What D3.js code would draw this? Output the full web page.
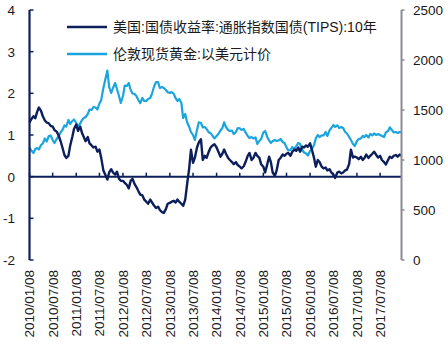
<!DOCTYPE html>
<html>
<head>
<meta charset="utf-8">
<script src="https://cdn.jsdelivr.net/npm/d3@7"></script>
<style>
  html, body { margin: 0; padding: 0; background: #fff; }
  svg { display: block; }
</style>
</head>
<body>
<div id="chart"></div>
<script>
// semi-monthly observations (8th and 22nd of each month), 2010-01 .. 2017-12
const startYear = 2010;

const tipsYield = [
  // 2010
  1.30, 1.38, 1.45, 1.40, 1.55, 1.66, 1.58, 1.45, 1.35, 1.30, 1.28, 1.22,
  1.20, 1.12, 1.08, 1.00, 0.85, 0.70, 0.52, 0.45, 0.50, 0.75, 0.95, 1.15,
  // 2011
  1.25, 1.10, 1.20, 1.05, 0.95, 0.85, 0.95, 0.80, 0.75, 0.70, 0.72, 0.60,
  0.65, 0.45, 0.15, 0.05, -0.07, 0.10, 0.18, 0.10, 0.05, 0.12, -0.05, -0.10,
  // 2012
  -0.10, -0.15, -0.20, -0.28, -0.10, -0.05, -0.18, -0.25, -0.35, -0.43, -0.45, -0.55,
  -0.60, -0.65, -0.55, -0.62, -0.70, -0.75, -0.72, -0.80, -0.85, -0.87, -0.78, -0.65,
  // 2013
  -0.63, -0.60, -0.58, -0.62, -0.55, -0.60, -0.65, -0.70, -0.55, -0.20, 0.20, 0.65,
  0.33, 0.45, 0.70, 0.82, 0.90, 0.40, 0.50, 0.45, 0.60, 0.70, 0.75, 0.78,
  // 2014
  0.70, 0.60, 0.48, 0.55, 0.65, 0.55, 0.45, 0.40, 0.35, 0.30, 0.35, 0.28,
  0.24, 0.20, 0.25, 0.35, 0.50, 0.57, 0.40, 0.45, 0.57, 0.50, 0.45, 0.30,
  // 2015
  0.24, 0.10, 0.30, 0.48, 0.35, 0.10, 0.02, 0.15, 0.40, 0.45, 0.53, 0.50,
  0.55, 0.57, 0.50, 0.60, 0.65, 0.62, 0.70, 0.60, 0.72, 0.70, 0.75, 0.72,
  // 2016
  0.80, 0.65, 0.45, 0.24, 0.40, 0.35, 0.24, 0.20, 0.22, 0.15, 0.18, 0.10,
  0.05, -0.03, 0.10, 0.12, 0.08, 0.10, 0.15, 0.17, 0.30, 0.65, 0.46, 0.48,
  // 2017
  0.46, 0.42, 0.48, 0.40, 0.45, 0.53, 0.45, 0.50, 0.55, 0.60, 0.52, 0.46,
  0.50, 0.40, 0.35, 0.29, 0.40, 0.48, 0.45, 0.50, 0.52, 0.48, 0.53, 0.50
];

const goldPrice = [
  // 2010
  1125, 1095, 1070, 1110, 1120, 1105, 1150, 1165, 1215, 1185, 1240, 1245,
  1200, 1170, 1210, 1235, 1275, 1300, 1345, 1335, 1400, 1360, 1390, 1405,
  // 2011
  1370, 1335, 1365, 1400, 1420, 1430, 1460, 1505, 1500, 1530, 1525, 1505,
  1565, 1600, 1720, 1800, 1895, 1730, 1670, 1720, 1770, 1710, 1640, 1570,
  // 2012
  1640, 1745, 1740, 1770, 1700, 1665, 1660, 1640, 1598, 1568, 1620, 1590,
  1590, 1610, 1620, 1665, 1740, 1779, 1780, 1720, 1729, 1720, 1700, 1678,
  // 2013
  1670, 1680, 1660, 1618, 1590, 1610, 1570, 1420, 1460, 1380, 1330, 1280,
  1250, 1200, 1300, 1377, 1370, 1327, 1330, 1310, 1276, 1270, 1240, 1216,
  // 2014
  1240, 1260, 1296, 1320, 1377, 1330, 1300, 1290, 1295, 1260, 1280, 1320,
  1317, 1300, 1310, 1276, 1240, 1220, 1230, 1216, 1226, 1160, 1190, 1210,
  // 2015
  1276, 1290, 1230, 1196, 1170, 1190, 1200, 1190, 1196, 1210, 1180, 1170,
  1126, 1095, 1100, 1130, 1110, 1140, 1170, 1160, 1100, 1075, 1065, 1045,
  // 2016
  1090, 1110, 1150, 1216, 1250, 1230, 1246, 1245, 1280, 1240, 1296, 1320,
  1350, 1330, 1347, 1320, 1330, 1320, 1280, 1265, 1230, 1200, 1160, 1140,
  // 2017
  1190, 1210, 1216, 1240, 1230, 1250, 1225, 1260, 1246, 1265, 1250, 1260,
  1250, 1240, 1230, 1276, 1290, 1327, 1300, 1276, 1280, 1270, 1280, 1276
];

const leftTicks = [-2, -1, 0, 1, 2, 3, 4];
const rightTicks = [0, 500, 1000, 1500, 2000, 2500];
const seriesNames = ["美国:国债收益率:通胀指数国债(TIPS):10年", "伦敦现货黄金:以美元计价"];
const seriesColors = ["#0c1f5b", "#1ba5de"];

const dates = tipsYield.map((d, i) => new Date(startYear + Math.floor(i / 24), Math.floor(i / 2) % 12, i % 2 ? 22 : 8));
const tickDates = d3.range(0, 16).map(k => new Date(startYear + Math.floor(k / 2), (k % 2) * 6, 8));

const width = 448, height = 354;
const plotLeft = 29.5, plotRight = 401.5, plotTop = 10, plotBottom = 260;

const svg = d3.select("#chart").append("svg")
  .attr("width", width)
  .attr("height", height)
  .style("font-family", "'Liberation Sans', Arial, 'Noto Sans CJK SC', sans-serif");

const x = d3.scaleTime()
  .domain([new Date(2010, 0, 8), new Date(2017, 11, 22)])
  .range([plotLeft, plotRight]);

const yL = d3.scaleLinear().domain([-2, 4]).range([plotBottom, plotTop]);
const yR = d3.scaleLinear().domain([0, 2500]).range([plotBottom, plotTop]);

// ---------- series ----------
const goldLine = d3.line()
  .x((d, i) => x(dates[i]))
  .y(d => yR(d));

const tipsLine = d3.line()
  .x((d, i) => x(dates[i]))
  .y(d => yL(d));

svg.append("path")
  .datum(goldPrice)
  .attr("fill", "none")
  .attr("stroke", seriesColors[1])
  .attr("stroke-width", 2.2)
  .attr("stroke-linejoin", "round")
  .attr("d", goldLine);

svg.append("path")
  .datum(tipsYield)
  .attr("fill", "none")
  .attr("stroke", seriesColors[0])
  .attr("stroke-width", 2.4)
  .attr("stroke-linejoin", "round")
  .attr("d", tipsLine);

// ---------- x axis at zero ----------
const xAxis = svg.append("g")
  .attr("transform", `translate(0,${yL(0)})`);

xAxis.append("line")
  .attr("x1", plotLeft).attr("x2", plotRight)
  .attr("stroke", seriesColors[0])
  .attr("stroke-width", 2);

xAxis.selectAll(".xtick")
  .data(tickDates)
  .join("line")
  .attr("x1", d => x(d)).attr("x2", d => x(d))
  .attr("y1", 0).attr("y2", -4)
  .attr("stroke", seriesColors[0])
  .attr("stroke-width", 1.5);

svg.selectAll(".xlabel")
  .data(tickDates)
  .join("text")
  .attr("transform", d => `translate(${x(d)},270) rotate(-90)`)
  .attr("dy", "0.36em")
  .attr("text-anchor", "end")
  .attr("font-size", 13.5)
  .attr("fill", "#1a1a1a")
  .text(d3.timeFormat("%Y/%m/%d"));

// ---------- left axis ----------
svg.append("line")
  .attr("x1", plotLeft).attr("x2", plotLeft)
  .attr("y1", plotTop).attr("y2", plotBottom)
  .attr("stroke", seriesColors[0])
  .attr("stroke-width", 2.2);

svg.selectAll(".ltick")
  .data(leftTicks)
  .join("line")
  .attr("x1", plotLeft).attr("x2", plotLeft + 4)
  .attr("y1", d => yL(d)).attr("y2", d => yL(d))
  .attr("stroke", seriesColors[0])
  .attr("stroke-width", 1.5);

svg.selectAll(".llabel")
  .data(leftTicks)
  .join("text")
  .attr("x", 15)
  .attr("y", d => yL(d))
  .attr("dy", "0.36em")
  .attr("text-anchor", "end")
  .attr("font-size", 13.5)
  .attr("fill", "#1a1a1a")
  .text(d => d);

// ---------- right axis ----------
svg.append("line")
  .attr("x1", plotRight).attr("x2", plotRight)
  .attr("y1", plotTop).attr("y2", plotBottom)
  .attr("stroke", "#8a8a94")
  .attr("stroke-width", 2);

svg.selectAll(".rtick")
  .data(rightTicks)
  .join("line")
  .attr("x1", plotRight).attr("x2", plotRight + 3)
  .attr("y1", d => yR(d)).attr("y2", d => yR(d))
  .attr("stroke", "#8a8a94")
  .attr("stroke-width", 1.5);

svg.selectAll(".rlabel")
  .data(rightTicks)
  .join("text")
  .attr("x", 413)
  .attr("y", d => yR(d))
  .attr("dy", "0.36em")
  .attr("font-size", 13.5)
  .attr("fill", "#1a1a1a")
  .text(d => d);

// ---------- legend ----------
const legend = svg.append("g");
seriesNames.forEach((name, i) => {
  const yy = 27 + i * 27;
  legend.append("line")
    .attr("x1", 67).attr("x2", 107)
    .attr("y1", yy).attr("y2", yy)
    .attr("stroke", seriesColors[i])
    .attr("stroke-width", 2.4);
  legend.append("text")
    .attr("x", 113)
    .attr("y", yy)
    .attr("dy", "0.36em")
    .attr("font-size", 14)
    .attr("fill", "#1a1a1a")
    .text(name);
});
</script>
</body>
</html>
